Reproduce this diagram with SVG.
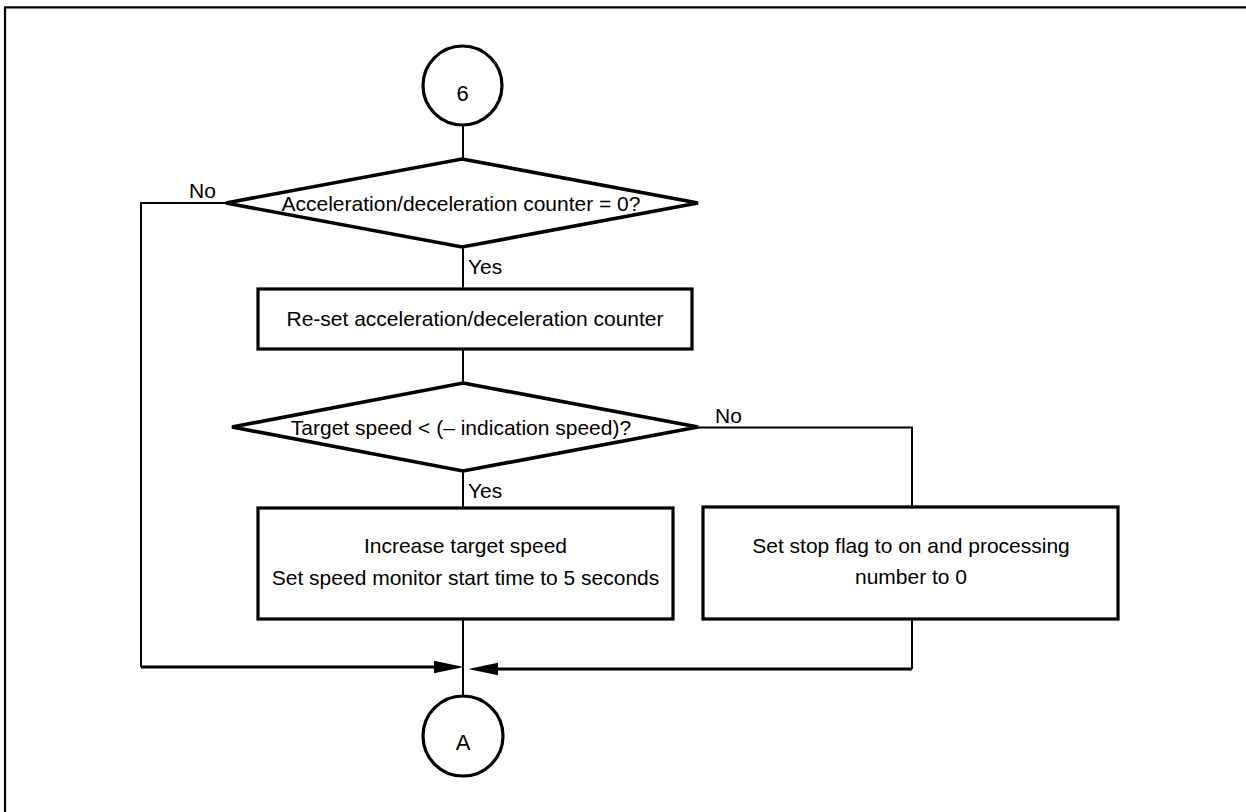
<svg xmlns="http://www.w3.org/2000/svg" width="1246" height="812" viewBox="0 0 1246 812">
<style>
.shape{fill:#fff;stroke:#000;stroke-width:3.2}
.dia{fill:#fff;stroke:#000;stroke-width:3.6;stroke-linejoin:miter}
.conn{fill:none;stroke:#000;stroke-width:2}
.arr{fill:none;stroke:#000;stroke-width:2.8}
text{font-family:"Liberation Sans",Arial,Helvetica,sans-serif;font-size:21px;fill:#000}
.c{text-anchor:middle}
.big{font-size:22px}
</style>
<defs>
<marker id="ah" markerUnits="userSpaceOnUse" markerWidth="30" markerHeight="14" viewBox="0 0 28 12" refX="18" refY="6" orient="auto">
<path d="M0,0 L28,6 L0,12 z" fill="#000"/>
</marker>
</defs>
<rect width="1246" height="812" fill="#fff"/>
<path d="M5,812 V7.3 H1246" fill="none" stroke="#000" stroke-width="2.2"/>
<g id="connectors">
<path class="conn" d="M463,126 V159"/>
<path class="conn" d="M226,203 H141 V667"/>
<path class="conn" d="M463,247 V289"/>
<path class="conn" d="M463,349 V383"/>
<path class="conn" d="M698,427.5 H912 V507"/>
<path class="conn" d="M463,471 V508"/>
<path class="conn" d="M463,619 V696"/>
<path class="arr" d="M141,667 H453" marker-end="url(#ah)"/>
<path class="conn" d="M912,619 V669"/>
<path class="arr" d="M912,669 H479" marker-end="url(#ah)"/>
<text x="189" y="198">No</text>
<text x="468" y="274">Yes</text>
<text x="715" y="423">No</text>
<text x="468" y="498">Yes</text>
</g>
<g id="start6">
<circle class="shape" cx="462.5" cy="85.5" r="39.5"/>
<text class="c big" x="462.5" y="100.5">6</text>
</g>
<g id="decision1">
<polygon class="dia" points="462,159 698,203 462,247 226,203"/>
<text class="c" x="461" y="211">Acceleration/deceleration counter = 0?</text>
</g>
<g id="reset">
<rect class="shape" x="258" y="289" width="434" height="60"/>
<text class="c" x="475" y="326">Re-set acceleration/deceleration counter</text>
</g>
<g id="decision2">
<polygon class="dia" points="463,383 698,427 463,471 232,427"/>
<text class="c" x="461" y="435">Target speed &lt; (– indication speed)?</text>
</g>
<g id="increase">
<rect class="shape" x="258" y="508" width="415" height="111"/>
<text class="c" x="465.5" y="553">Increase target speed</text>
<text class="c" x="465.5" y="585">Set speed monitor start time to 5 seconds</text>
</g>
<g id="stop">
<rect class="shape" x="703" y="507" width="415" height="112"/>
<text class="c" x="911" y="553">Set stop flag to on and processing</text>
<text class="c" x="911" y="584">number to 0</text>
</g>
<g id="endA">
<circle class="shape" cx="463" cy="736" r="40"/>
<text class="c big" x="463" y="750">A</text>
</g>
</svg>
